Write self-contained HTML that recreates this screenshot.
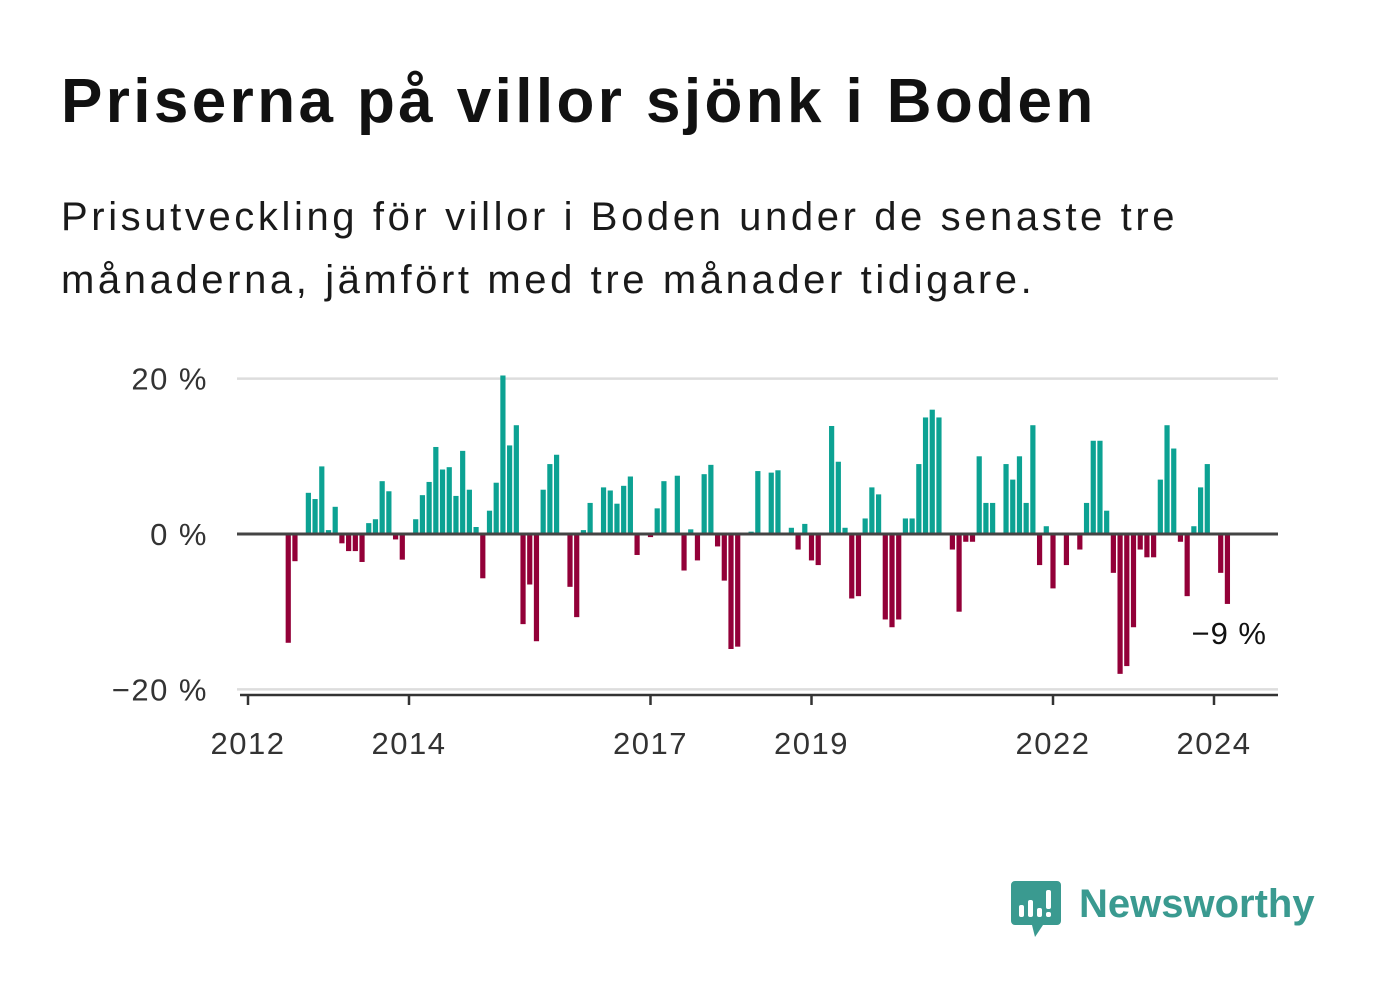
<!DOCTYPE html>
<html><head><meta charset="utf-8">
<style>
html,body{margin:0;padding:0;background:#fff;}
body{width:1382px;height:999px;position:relative;overflow:hidden;font-family:"Liberation Sans","DejaVu Sans",sans-serif;color:#111;}
#title{position:absolute;left:61px;top:66px;font-size:62px;font-weight:bold;letter-spacing:3.4px;margin:0;white-space:nowrap;}
#subtitle{position:absolute;left:61px;top:186px;font-size:40px;line-height:63px;margin:0;color:#1a1a1a;width:1300px;letter-spacing:3.6px;white-space:nowrap;}
svg{position:absolute;left:0;top:0;}
</style></head><body>
<h1 id="title">Priserna på villor sjönk i Boden</h1>
<p id="subtitle">Prisutveckling för villor i Boden under de senaste tre<br>månaderna, jämfört med tre månader tidigare.</p>
<svg id="chart" width="1382" height="999"></svg>
<script>
// month index since Jan 2012
const months = [6,7,9,10,11,12,13,14,15,16,17,18,19,20,21,22,23,25,26,27,28,29,30,31,32,33,34,35,36,37,38,39,40,41,42,43,44,45,46,48,49,50,51,53,54,55,56,57,58,60,61,62,64,65,66,67,68,69,70,71,72,73,75,76,78,79,81,82,83,84,85,87,88,89,90,91,92,93,94,95,96,97,98,99,100,101,102,103,105,106,107,108,109,110,111,113,114,115,116,117,118,119,120,122,124,125,126,127,128,129,130,131,132,133,134,135,136,137,138,139,140,141,142,143,145,146];
const values = [-14,-3.5,5.3,4.5,8.7,0.5,3.5,-1.2,-2.2,-2.2,-3.6,1.4,1.9,6.8,5.5,-0.7,-3.3,1.9,5.0,6.7,11.2,8.3,8.6,4.9,10.7,5.7,0.9,-5.7,3.0,6.6,20.4,11.4,14.0,-11.6,-6.5,-13.8,5.7,9.0,10.2,-6.8,-10.7,0.5,4.0,6.0,5.6,3.9,6.2,7.4,-2.7,-0.4,3.3,6.8,7.5,-4.7,0.6,-3.4,7.7,8.9,-1.6,-6.0,-14.8,-14.5,0.3,8.1,7.9,8.2,0.8,-2.0,1.3,-3.4,-4.0,13.9,9.3,0.8,-8.3,-8.0,2.0,6.0,5.1,-11.0,-12.0,-11.0,2.0,2.0,9.0,15.0,16.0,15.0,-2.0,-10.0,-1.0,-1.0,10.0,4.0,4.0,9.0,7.0,10.0,4.0,14.0,-4.0,1.0,-7.0,-4.0,-2.0,4.0,12.0,12.0,3.0,-5.0,-18.0,-17.0,-12.0,-2.0,-3.0,-3.0,7.0,14.0,11.0,-1.0,-8.0,1.0,6.0,9.0,-5.0,-9.0];
const yTicks = [20,0,-20];
const yTickLabels = ["20 %","0 %","\u221220 %"];
const xTickYears = [2012,2014,2017,2019,2022,2024];

const NS="http://www.w3.org/2000/svg";
const svg=document.getElementById('chart');
const x0=248, pxPerMonth=(1214-248)/144;
const xScale=m=>x0+m*pxPerMonth;
const yScale=v=>534-v*7.77;
function mk(tag,attrs){const e=document.createElementNS(NS,tag);for(const k in attrs)e.setAttribute(k,attrs[k]);svg.appendChild(e);return e;}

yTicks.forEach((t,i)=>{
  if(t!==0){const g=mk('line',{x1:237,x2:1278,y1:yScale(t),y2:yScale(t),stroke:'#dddddd','stroke-width':2.5});
  
  }
  const tx=mk('text',{x:208,y:yScale(t)+11,'text-anchor':'end','font-size':31,fill:'#333','letter-spacing':1.5,'font-family':'Liberation Sans, sans-serif'});
  tx.textContent=yTickLabels[i];
  
  
});
values.forEach((v,i)=>{
  const x=xScale(months[i]);
  const y=Math.min(yScale(v),yScale(0)), h=Math.abs(yScale(v)-yScale(0));
  const r=mk('rect',{x:x-2.6,y:y,width:5.2,height:Math.max(h,0.5),fill:v>=0?'#0ca293':'#930038'});
  
  
});
const z=mk('line',{x1:237,x2:1278,y1:534,y2:534,stroke:'#444','stroke-width':3});


const ax=mk('line',{x1:240,x2:1278,y1:695,y2:695,stroke:'#333','stroke-width':2.5});


xTickYears.forEach(yr=>{
  const x=xScale((yr-2012)*12);
  const t=mk('line',{x1:x,x2:x,y1:695,y2:705,stroke:'#333','stroke-width':2.5});
  
  
  const tx=mk('text',{x:x,y:754,'text-anchor':'middle','font-size':31,fill:'#333','letter-spacing':1.5,'font-family':'Liberation Sans, sans-serif'});
  tx.textContent=yr;
  
  
});
const lastVal=values[values.length-1];
const lab=mk('text',{x:1267,y:644,'text-anchor':'end','font-size':31,fill:'#111','letter-spacing':1,'font-family':'Liberation Sans, sans-serif'});
lab.textContent='\u2212'+Math.abs(Math.round(lastVal))+' %';


</script>
<svg width="1382" height="999" style="pointer-events:none">
  <path d="M1015 881 h42 a4 4 0 0 1 4 4 v36 a4 4 0 0 1 -4 4 h-14 l-8 12 l-3 -12 h-17 a4 4 0 0 1 -4 -4 v-36 a4 4 0 0 1 4 -4z" fill="#3a9a90"/>
  <rect x="1019" y="905" width="5" height="12" rx="2" fill="#fff"/>
  <rect x="1028" y="900" width="5" height="17" rx="2" fill="#fff"/>
  <rect x="1037" y="908" width="5" height="9" rx="2" fill="#fff"/>
  <rect x="1046" y="890" width="5" height="19" rx="2" fill="#fff"/>
  <rect x="1046" y="912" width="5" height="5" rx="2" fill="#fff"/>
  <text x="1079" y="917" font-size="40" font-weight="bold" fill="#3a9a90" font-family="Liberation Sans, sans-serif">Newsworthy</text>
</svg>
</body></html>
